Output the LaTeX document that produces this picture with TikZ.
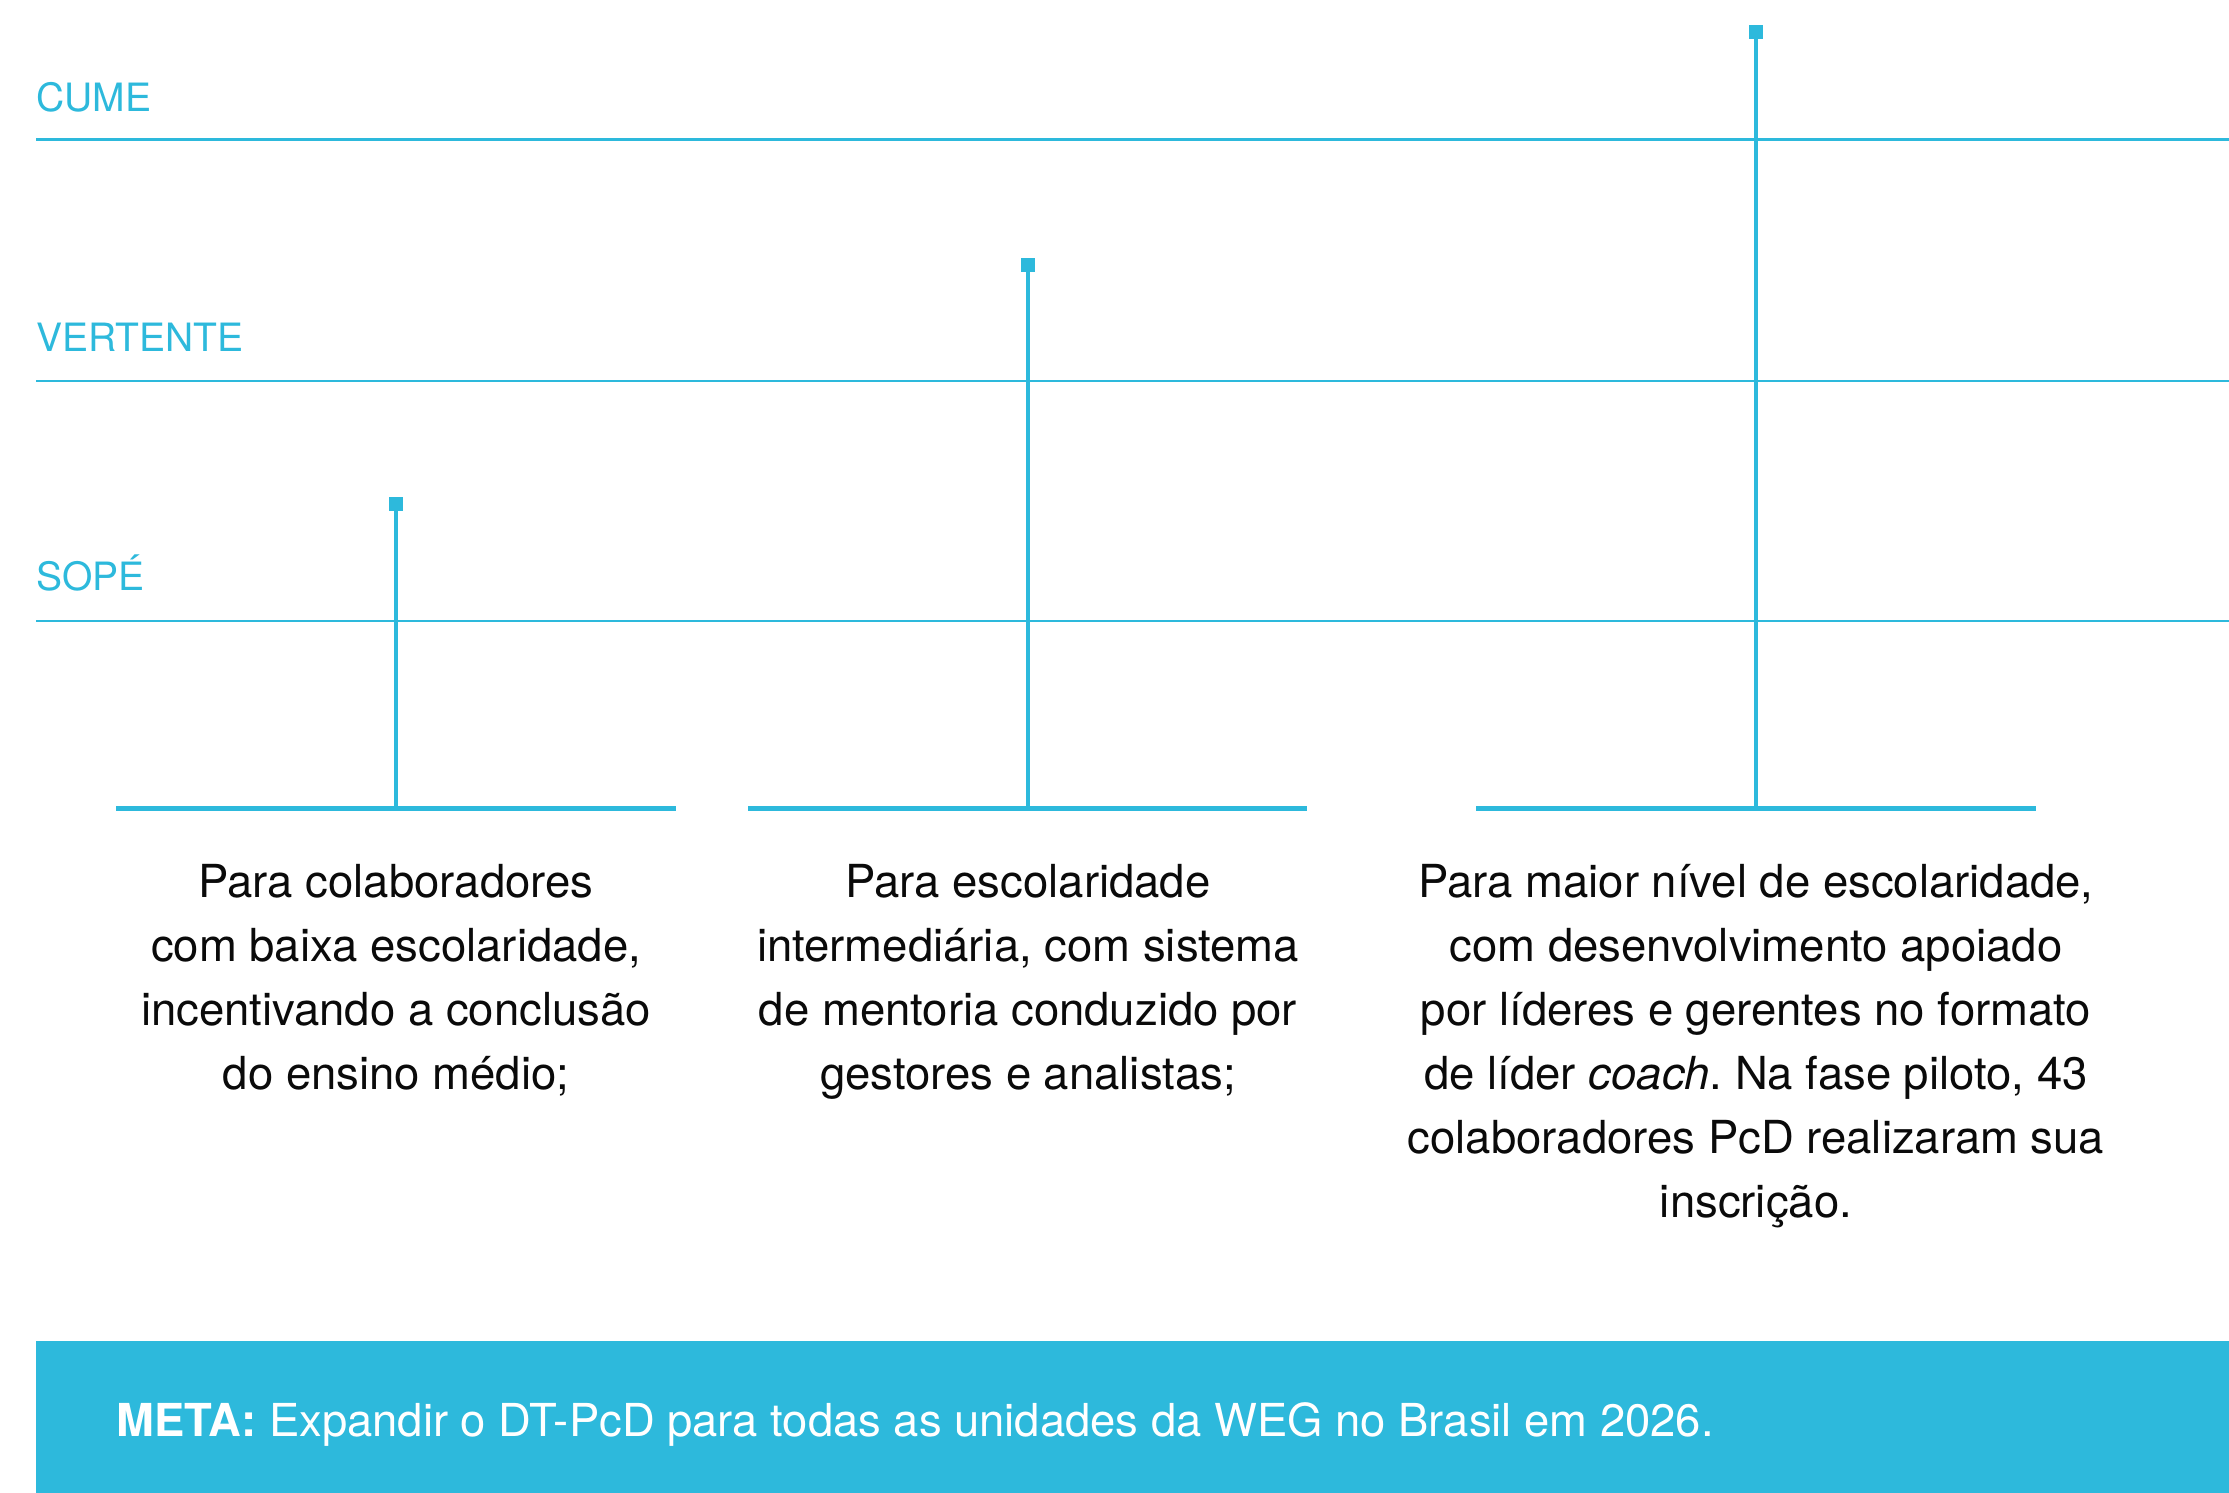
\documentclass[tikz,border=0pt]{standalone}
\usepackage{fontspec}
\setmainfont{TeX Gyre Heros}
\frenchspacing
\definecolor{wegcyan}{HTML}{2DB9DC}
\definecolor{bodytext}{HTML}{0A0A0A}
\begin{document}
\begin{tikzpicture}[x=1pt,y=-1pt,
  level/.style={draw=wegcyan,line width=2.5pt},
  baseln/.style={draw=wegcyan,line width=5.5pt},
  stem/.style={draw=wegcyan,line width=4.5pt},
  marker/.style={fill=wegcyan,inner sep=0pt,minimum size=14pt,draw=none},
  lvllabel/.style={anchor=base west,inner sep=0pt,text=wegcyan,font=\fontsize{39}{46}\selectfont},
  desc/.style={anchor=north,inner sep=0pt,align=center,text=bodytext,font=\fontsize{45.5}{64}\selectfont},
]
\useasboundingbox (0,0) rectangle (2229,1493);
\fill[white] (0,0) rectangle (2229,1493);

% level lines
\coordinate (cumeL) at (36,139.5);
\coordinate (cumeR) at (2229,139.5);
\coordinate (vertL) at (36,381);
\coordinate (vertR) at (2229,381);
\coordinate (sopeL) at (36,621);
\coordinate (sopeR) at (2229,621);
\draw[level] (cumeL) -- (cumeR);
\draw[level] (vertL) -- (vertR);
\draw[level] (sopeL) -- (sopeR);

\node[lvllabel] (cume) at (36,112) {CUME};
\node[lvllabel] (vert) at (36,351.5) {VERTENTE};
\node[lvllabel] (sope) at (36,590.5) {SOPÉ};

% base lines
\coordinate (b1l) at (116,808.5);
\coordinate (b1r) at (676,808.5);
\coordinate (b2l) at (748,808.5);
\coordinate (b2r) at (1307,808.5);
\coordinate (b3l) at (1476,808.5);
\coordinate (b3r) at (2036,808.5);

% markers
\node[marker] (t1) at (396,504) {};
\node[marker] (t2) at (1028,265) {};
\node[marker] (t3) at (1756,32) {};

\draw[stem] (t1.center) -- (t1 |- b1l);
\draw[stem] (t2.center) -- (t2 |- b2l);
\draw[stem] (t3.center) -- (t3 |- b3l);
\draw[baseln] (b1l) -- (b1r);
\draw[baseln] (b2l) -- (b2r);
\draw[baseln] (b3l) -- (b3r);

% descriptions
\node[desc] (d1) at (396,864.5) {Para colaboradores\\com baixa escolaridade,\\incentivando a conclusão\\do ensino médio;};
\node[desc] (d2) at (1028,864.5) {Para escolaridade\\intermediária, com sistema\\de mentoria conduzido por\\gestores e analistas;};
\node[desc] (d3) at (1756,864.5) {Para maior nível de escolaridade,\\com desenvolvimento apoiado\\por líderes e gerentes no formato\\de líder \textit{coach}. Na fase piloto, 43\\colaboradores PcD realizaram sua\\inscrição.};

% banner
\fill[wegcyan] (35.5,1341) rectangle (2229,1493);
\node[anchor=base west,inner sep=0pt,text=white,font=\fontsize{45.4}{54}\selectfont] (meta) at (116.5,1436.5) {\textbf{META:} Expandir o DT-PcD para todas as unidades da WEG no Brasil em 2026.};
\end{tikzpicture}
\end{document}
